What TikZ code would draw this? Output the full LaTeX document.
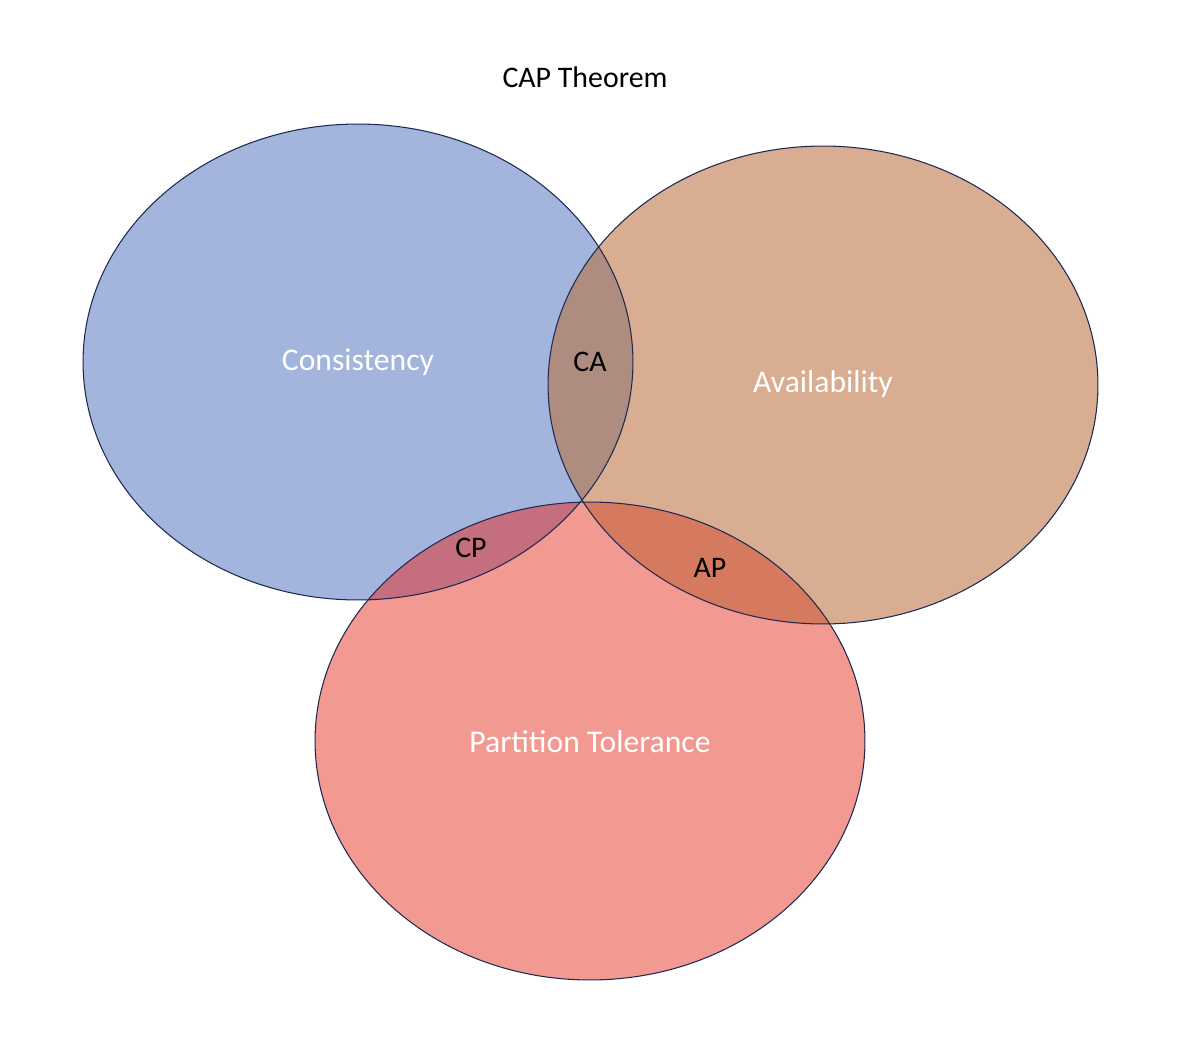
\documentclass[tikz,border=0pt]{standalone}
\usepackage{fontspec}
\setmainfont{Carlito}
\usetikzlibrary{positioning}
\definecolor{capblue}{HTML}{A3B5DC}
\definecolor{caporange}{HTML}{D8AD92}
\definecolor{capred}{HTML}{F29A92}
\definecolor{capca}{HTML}{AE8C80}
\definecolor{capcp}{HTML}{C46E7E}
\definecolor{capap}{HTML}{D57A5E}
\definecolor{capedge}{HTML}{1D2951}
\tikzset{setlabel/.style={text=white, font=\fontsize{18}{20}\selectfont}}
\tikzset{pairlabel/.style={text=black, font=\fontsize{17}{19}\selectfont}}
\tikzset{ring/.style={draw=capedge, line width=0.6pt}}
\begin{document}
\begin{tikzpicture}[x=0.02cm, y=-0.02cm]
    \useasboundingbox (0,0) rectangle (1200,1048);
    \coordinate (C) at (358,362);
    \coordinate (A) at (823,385);
    \coordinate (P) at (590,741);
    % sets
    \fill[capblue] (C) ellipse [x radius=5.5cm, y radius=4.76cm];
    \fill[caporange] (A) ellipse [x radius=5.5cm, y radius=4.78cm];
    \fill[capred] (P) ellipse [x radius=5.5cm, y radius=4.78cm];
    % overlaps
    \begin{scope}
        \clip (C) ellipse [x radius=5.5cm, y radius=4.76cm];
        \fill[capca] (A) ellipse [x radius=5.5cm, y radius=4.78cm];
    \end{scope}
    \begin{scope}
        \clip (C) ellipse [x radius=5.5cm, y radius=4.76cm];
        \fill[capcp] (P) ellipse [x radius=5.5cm, y radius=4.78cm];
    \end{scope}
    \begin{scope}
        \clip (A) ellipse [x radius=5.5cm, y radius=4.78cm];
        \fill[capap] (P) ellipse [x radius=5.5cm, y radius=4.78cm];
    \end{scope}
    \draw[ring] (C) ellipse [x radius=5.5cm, y radius=4.76cm];
    \draw[ring] (A) ellipse [x radius=5.5cm, y radius=4.78cm];
    \draw[ring] (P) ellipse [x radius=5.5cm, y radius=4.78cm];
    % labels
    \node[font=\fontsize{17}{19}\selectfont] (title) at (585,77) {CAP Theorem};
    \node[setlabel] (cons) at (358,362) {Consistency};
    \node[setlabel] (avail) at (823,384) {Availability};
    \node[setlabel] (part) at (590,742) {Partition Tolerance};
    \node[pairlabel] (ca) at (590,362) {CA};
    \node[pairlabel] (cp) at (471,548) {CP};
    \node[pairlabel] (ap) at (710,568) {AP};
\end{tikzpicture}
\end{document}
